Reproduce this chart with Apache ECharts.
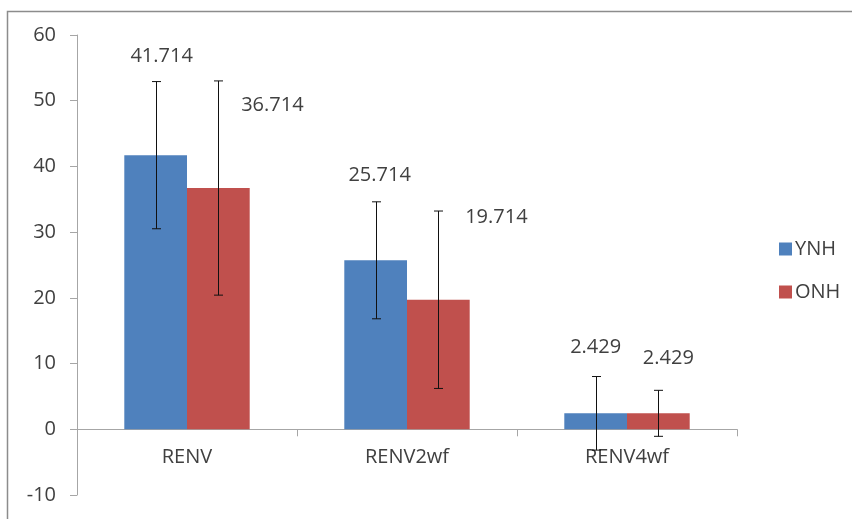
<!DOCTYPE html>
<html>
<head>
<meta charset="utf-8">
<script src="https://cdn.jsdelivr.net/npm/echarts@6/dist/echarts.min.js"></script>
<style>html,body{margin:0;padding:0;background:#fff}#c{width:852px;height:519px}</style>
</head>
<body>
<div id="c"></div>
<script>
var categories = ['RENV', 'RENV2wf', 'RENV4wf'];
var seriesNames = ['YNH', 'ONH'];
var ynh = [41.714, 25.714, 2.429];
var onh = [36.714, 19.714, 2.429];
var errYNH = [11.2, 8.9, 5.6];
var errONH = [16.3, 13.5, 3.5];
var yTicks = [-10, 0, 10, 20, 30, 40, 50, 60];

// label placement (pixel offsets), kept separate from the data
var labelOffYNH = [[6, -89], [4, -75], [0, -56]];
var labelOffONH = [[54, -73], [58, -72], [10, -45]];

var GAP = 0.43;
var font = 'Open Sans';
var textColor = '#404040';
var axisColor = '#a6a6a6';
var GRID_TOP = 35, GRID_BOTTOM = 24, H = 519;
var plotH = H - GRID_TOP - GRID_BOTTOM;
var yMin = yTicks[0], yMax = yTicks[yTicks.length - 1];
var zeroShift = -plotH * (0 - yMin) / (yMax - yMin);

function barData(vals, offs) {
  return vals.map(function (v, i) {
    return { value: v, label: { offset: offs[i] } };
  });
}
function errData(vals, errs) {
  return vals.map(function (v, i) { return [i, v - errs[i], v + errs[i]]; });
}
function errRender(sign) {
  return function (params, api) {
    var band = api.size([1, 0])[0];
    var off = sign * band * (1 - GAP) / 4;
    var lo = api.coord([api.value(0), api.value(1)]);
    var hi = api.coord([api.value(0), api.value(2)]);
    var x = Math.round(lo[0] + off) + 0.5;
    var hw = 4.5;
    var st = { stroke: '#111', lineWidth: 1 };
    return {
      type: 'group', children: [
        { type: 'line', shape: { x1: x, y1: hi[1], x2: x, y2: lo[1] }, style: st },
        { type: 'line', shape: { x1: x - hw, y1: hi[1], x2: x + hw, y2: hi[1] }, style: st },
        { type: 'line', shape: { x1: x - hw, y1: lo[1], x2: x + hw, y2: lo[1] }, style: st }
      ]
    };
  };
}

var labelCfg = {
  show: true, position: 'top', distance: 0,
  fontFamily: font, fontSize: 20, lineHeight: 20, color: textColor,
  formatter: function (p) { return p.value.toFixed(3); }
};

var chart = echarts.init(document.getElementById('c'), null, { renderer: 'canvas' });
chart.setOption({
  animation: false,
  backgroundColor: '#fff',
  graphic: [{
    type: 'rect', left: 5, top: 9, z: -10,
    shape: { width: 900, height: 600 },
    style: { fill: 'none', stroke: '#8c8c8c', lineWidth: 1.5 }
  }],
  legend: {
    data: seriesNames, orient: 'vertical', left: 774, top: 234,
    itemWidth: 13, itemHeight: 13, itemGap: 23, icon: 'rect',
    textStyle: { fontFamily: font, fontSize: 20, color: textColor, padding: [0, 0, 0, -2] }
  },
  grid: { left: 77, right: 115, top: GRID_TOP, bottom: GRID_BOTTOM, containLabel: false, outerBoundsMode: 'none' },
  xAxis: {
    type: 'category', data: categories,
    offset: zeroShift,
    axisLine: { onZero: false, lineStyle: { color: axisColor } },
    axisTick: { show: true, length: 7, lineStyle: { color: axisColor } },
    axisLabel: { fontFamily: font, fontSize: 20, color: textColor, margin: 18 }
  },
  yAxis: {
    type: 'value', min: yMin, max: yMax, interval: 10,
    splitLine: { show: false },
    axisLine: { show: true, lineStyle: { color: axisColor } },
    axisTick: { show: true, length: 7, lineStyle: { color: axisColor } },
    axisLabel: { fontFamily: font, fontSize: 20, color: textColor, margin: 21 }
  },
  series: [
    { name: 'YNH', type: 'bar', data: barData(ynh, labelOffYNH), barGap: '0%', barCategoryGap: (GAP * 100) + '%',
      itemStyle: { color: '#4f81bd' }, label: labelCfg },
    { name: 'ONH', type: 'bar', data: barData(onh, labelOffONH), barGap: '0%', barCategoryGap: (GAP * 100) + '%',
      itemStyle: { color: '#c0504d' }, label: labelCfg },
    { name: 'errYNH', type: 'custom', z: 5, renderItem: errRender(-1), data: errData(ynh, errYNH),
      encode: { x: 0, y: [1, 2] }, silent: true },
    { name: 'errONH', type: 'custom', z: 5, renderItem: errRender(1), data: errData(onh, errONH),
      encode: { x: 0, y: [1, 2] }, silent: true }
  ]
});
</script>
</body>
</html>
